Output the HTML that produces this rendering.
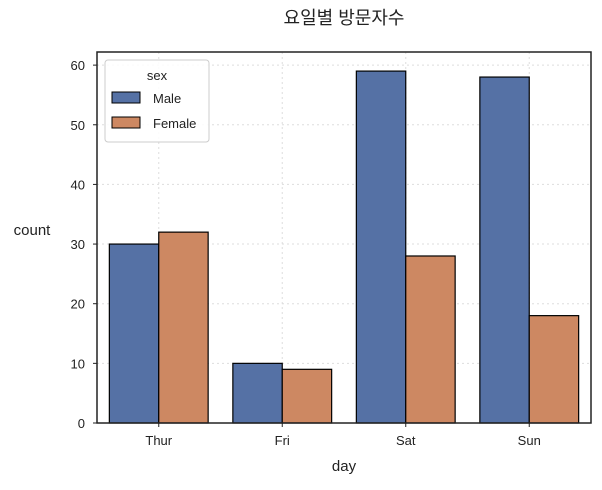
<!DOCTYPE html>
<html><head><meta charset="utf-8"><style>
body{margin:0;background:#fff;font-family:"Liberation Sans","Noto Sans CJK KR",sans-serif;}
svg text{font-family:"Liberation Sans","Noto Sans CJK KR",sans-serif;fill:#222;}
</style></head><body>
<svg id="chart" width="602" height="485" xmlns="http://www.w3.org/2000/svg"></svg>
<script>
const categories=["Thur","Fri","Sat","Sun"];
const maleValues=[30,10,59,58];
const femaleValues=[32,9,28,18];
const yTicks=[0,10,20,30,40,50,60];
const seriesNames=["Male","Female"];
const colors=["#5571a5","#cd8862"];
const svg=document.getElementById('chart');
const NS="http://www.w3.org/2000/svg";
const L=97,R=591,T=52,B=423;
const yMax=62.2;
function y(v){return B-(v/yMax)*(B-T);}
const bw=(R-L)/categories.length;
function xc(i){return L+bw*(i+0.5);}
function mk(tag,attrs,name,txt){const e=document.createElementNS(NS,tag);for(const k in attrs)e.setAttribute(k,attrs[k]);


if(txt!==undefined)e.textContent=txt;svg.appendChild(e);return e;}
// grid
yTicks.forEach(t=>{mk('line',{x1:L,x2:R,y1:y(t),y2:y(t),stroke:'#ddd','stroke-dasharray':'2,3'},'y-gridline');
mk('text',{x:L-12,y:y(t)+5,'text-anchor':'end','font-size':13},'y-tick-label',t);
mk('line',{x1:L-4,x2:L,y1:y(t),y2:y(t),stroke:'#222'},'y-tick');});
categories.forEach((c,i)=>{mk('line',{x1:xc(i),x2:xc(i),y1:T,y2:B,stroke:'#ddd','stroke-dasharray':'2,3'},'x-gridline');
mk('text',{x:xc(i),y:B+22,'text-anchor':'middle','font-size':13},'x-tick-label',c);
mk('line',{x1:xc(i),x2:xc(i),y1:B,y2:B+4,stroke:'#222'},'x-tick');});
const barW=bw*0.4;
[maleValues,femaleValues].forEach((vals,s)=>{vals.forEach((v,i)=>{
const x0=xc(i)-barW+s*barW;
mk('rect',{x:x0,y:y(v),width:barW,height:B-y(v),fill:colors[s],stroke:'#000','stroke-width':1.2},'bar-'+seriesNames[s].toLowerCase()+'-'+categories[i].toLowerCase());});});
mk('rect',{x:L,y:T,width:R-L,height:B-T,fill:'none',stroke:'#222','stroke-width':1.5},'plot-frame');
mk('text',{x:(L+R)/2,y:24,'text-anchor':'middle','font-size':18},'chart-title','요일별 방문자수');
mk('text',{x:(L+R)/2,y:471,'text-anchor':'middle','font-size':15},'x-axis-title','day');
mk('text',{x:32,y:235,'text-anchor':'middle','font-size':15},'y-axis-title','count');
// legend
mk('rect',{x:105,y:60,width:104,height:82,fill:'#fff',stroke:'#ccc',rx:3,'fill-opacity':0.85},'legend');
mk('text',{x:157,y:80,'text-anchor':'middle','font-size':13},'legend-title','sex');
seriesNames.forEach((n,s)=>{mk('rect',{x:112,y:92+s*25,width:28,height:11,fill:colors[s],stroke:'#000'},'legend-swatch-'+n.toLowerCase());
mk('text',{x:153,y:103+s*25,'font-size':13},'legend-label-'+n.toLowerCase(),n);});
</script>
</body></html>
